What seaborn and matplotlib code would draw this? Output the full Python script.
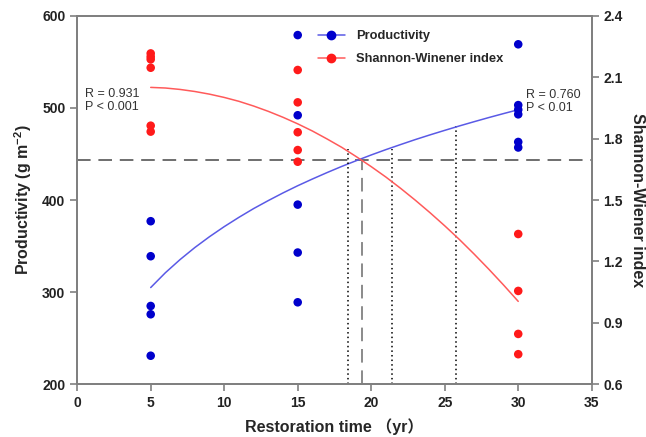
import numpy as np
import pandas as pd
import matplotlib
matplotlib.use("Agg")
import matplotlib.pyplot as plt
from matplotlib.lines import Line2D
import seaborn as sns

# ---- data ----
prod_x = [5, 5, 5, 5, 5, 15, 15, 15, 15, 15, 30, 30, 30, 30, 30, 30]
prod_y = [377, 339, 285, 276, 231, 579, 492, 395, 343, 289, 569, 503, 498, 493, 463, 457]

shan_x = [5, 5, 5, 5, 5, 5, 15, 15, 15, 15, 15, 30, 30, 30, 30]
shan_y = [2.216, 2.200, 2.187, 2.146, 1.863, 1.834,
          2.135, 1.977, 1.831, 1.744, 1.687,
          1.334, 1.056, 0.846, 0.747]

# fitted curves at 1-year steps
fit_x = list(range(5, 31))
prod_fit_y = [305.0, 321.1, 335.4, 348.4, 360.2, 371.1, 381.2, 390.7, 399.4, 407.7,
              415.5, 422.8, 429.8, 436.5, 442.8, 448.9, 454.7, 460.2, 465.6, 470.7,
              475.6, 480.4, 485.0, 489.5, 493.8, 498.0]
shan_fit_y = [2.050, 2.047, 2.040, 2.030, 2.017, 2.001, 1.982, 1.959, 1.933, 1.904,
              1.872, 1.837, 1.798, 1.757, 1.711, 1.663, 1.612, 1.557, 1.499, 1.438,
              1.374, 1.307, 1.236, 1.162, 1.085, 1.005]

# reference guide lines
h_level = 443.4
dash_x = 19.35
dot_red_x, dot_red_top = 18.4, 1.748
dot_blue = [(21.4, 455), (25.8, 480)]

x_ticks = [0, 5, 10, 15, 20, 25, 30, 35]
left_ticks = [200, 300, 400, 500, 600]
right_ticks = [0.6, 0.9, 1.2, 1.5, 1.8, 2.1, 2.4]

sns.set_style("ticks")
plt.rcParams['font.family'] = ['Liberation Sans', 'Noto Sans CJK SC', 'DejaVu Sans']
plt.rcParams['mathtext.fontset'] = 'custom'
plt.rcParams['mathtext.rm'] = 'Liberation Sans'
plt.rcParams['mathtext.bf'] = 'Liberation Sans:bold'

BLUE = '#0000cc'
RED = '#ff1a1a'
BLUE_L = '#5a5ae6'
RED_L = '#ff5a5a'
SPINE = '#808080'

fig = plt.figure(figsize=(6.46, 4.37), dpi=100)
ax = fig.add_axes([0.1195, 0.1206, 0.7965, 0.8434])
ax2 = ax.twinx()

df_p = pd.DataFrame({'x': prod_x, 'y': prod_y})
df_s = pd.DataFrame({'x': shan_x, 'y': shan_y})
df_pf = pd.DataFrame({'x': fit_x, 'y': prod_fit_y})
df_sf = pd.DataFrame({'x': fit_x, 'y': shan_fit_y})

# guide lines
ax.axhline(h_level, color='#6e6e6e', lw=1.4, ls=(0, (7, 4)), zorder=1)
ax.vlines(dash_x, 200, h_level, color='#8a8a8a', lw=1.4, ls=(0, (7, 4)), zorder=1)
ax2.vlines(dot_red_x, 0.6, dot_red_top, color='black', lw=1.1, ls=(0, (1, 2)), zorder=1)
for xv, yv in dot_blue:
    ax.vlines(xv, 200, yv, color='black', lw=1.1, ls=(0, (1, 2)), zorder=1)

sns.lineplot(data=df_pf, x='x', y='y', ax=ax, color=BLUE_L, lw=1.1, zorder=3, legend=False)
sns.scatterplot(data=df_p, x='x', y='y', ax=ax, color=BLUE, s=38, edgecolor='none', zorder=4, legend=False)
sns.lineplot(data=df_sf, x='x', y='y', ax=ax2, color=RED_L, lw=1.1, zorder=3, legend=False)
sns.scatterplot(data=df_s, x='x', y='y', ax=ax2, color=RED, s=38, edgecolor='none', zorder=4, legend=False)

ax.set_xlim(0, 35)
ax.set_ylim(200, 600)
ax2.set_ylim(0.6, 2.4)
ax.set_xticks(x_ticks)
ax.set_yticks(left_ticks)
ax2.set_yticks(right_ticks)
ax2.set_yticklabels([f"{v:.1f}" for v in right_ticks])

for a in (ax, ax2):
    for s in a.spines.values():
        s.set_color(SPINE)
        s.set_linewidth(1.4)
    a.tick_params(colors='#222222', width=1.2, length=5, color=SPINE, labelsize=10)
    for lab in a.get_xticklabels() + a.get_yticklabels():
        lab.set_fontweight('bold')

ax.set_xlabel('Restoration time （yr）', fontsize=11.5, fontweight='bold', labelpad=6)
ax.set_ylabel(r'Productivity (g m$^{\mathbf{-2}}$)', fontsize=11.5, fontweight='bold', labelpad=6)
ax2.set_ylabel('Shannon-Wiener index', fontsize=11.5, fontweight='bold', rotation=270, labelpad=16)

ax.text(0.55, 508, 'R = 0.931\nP < 0.001', fontsize=9, color='#333333',
        ha='left', va='center', linespacing=1.15)
ax.text(30.55, 507, 'R = 0.760\nP < 0.01', fontsize=9, color='#333333',
        ha='left', va='center', linespacing=1.15)

handles = [Line2D([0], [0], color=BLUE_L, lw=1.1, marker='o', markersize=6,
                  markerfacecolor=BLUE, markeredgecolor=BLUE),
           Line2D([0], [0], color=RED_L, lw=1.1, marker='o', markersize=6,
                  markerfacecolor=RED, markeredgecolor=RED)]
fig.legend(handles, ['Productivity', 'Shannon-Winener index'], loc='upper left',
           bbox_to_anchor=(0.492, 0.931), frameon=False, borderpad=0, borderaxespad=0,
           handlelength=2.1, handletextpad=0.85, labelspacing=0.85,
           prop={'weight': 'bold', 'size': 9.3})

fig.savefig('out.png', dpi=100)
